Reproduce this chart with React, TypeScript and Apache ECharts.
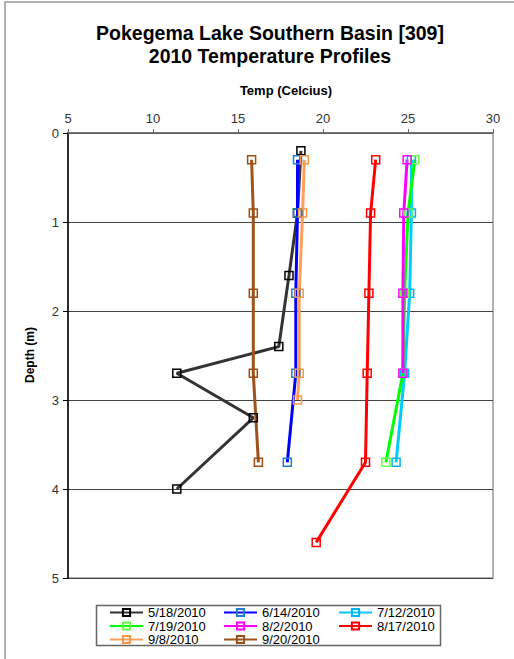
import React, { useEffect, useRef } from "react";
import * as echarts from "echarts";

const seriesNames = [
  "5/18/2010",
  "6/14/2010",
  "7/12/2010",
  "7/19/2010",
  "8/2/2010",
  "8/17/2010",
  "9/8/2010",
  "9/20/2010",
];

const depths0518 = [0.2, 0.9, 1.6, 2.4, 2.7, 3.2, 4.0];
const temps0518 = [18.7, 18.5, 18.0, 17.4, 11.4, 15.9, 11.4];

const depthsStd = [0.3, 0.9, 1.8, 2.7, 3.7, 4.6];
const temps0614 = [18.5, 18.5, 18.4, 18.4, 17.9];
const temps0712 = [25.2, 25.2, 25.1, 24.8, 24.3];
const temps0719 = [25.4, 25.0, 24.8, 24.7, 23.7];
const temps0802 = [24.95, 24.75, 24.7, 24.7];
const temps0817 = [23.1, 22.8, 22.7, 22.6, 22.5, 19.6];

const depths0908 = [0.3, 0.9, 1.8, 2.7, 3.0];
const temps0908 = [18.9, 18.8, 18.6, 18.6, 18.5];
const temps0920 = [15.8, 15.9, 15.9, 15.9, 16.2];

const xTicks = [5, 10, 15, 20, 25, 30];
const yTicks = [0, 1, 2, 3, 4, 5];

const lineColors = ["#333333", "#0000FF", "#00CCFF", "#00FF00", "#FF00FF", "#FF0000", "#FF9E5E", "#A0521A"];
const markerColors = ["#000000", "#1E7FD0", "#00B4F0", "#66FF44", "#FF00FF", "#FF0000", "#F79646", "#9C4F16"];

const pair = (temps: number[], depths: number[]) => temps.map((t, i) => [t, depths[i]]);

const FONT = "'Liberation Sans', Arial, sans-serif";

export default function App() {
  const ref = useRef<HTMLDivElement>(null);
  useEffect(() => {
    if (!ref.current) return;
    const chart = echarts.init(ref.current, undefined, { renderer: "svg" });
    const dataSets = [
      pair(temps0518, depths0518),
      pair(temps0614, depthsStd),
      pair(temps0712, depthsStd),
      pair(temps0719, depthsStd),
      pair(temps0802, depthsStd),
      pair(temps0817, depthsStd),
      pair(temps0908, depths0908),
      pair(temps0920, depthsStd),
    ];
    const legendBase = {
      orient: "vertical",
      top: 606,
      padding: 0,
      itemWidth: 33,
      itemHeight: 9,
      itemGap: 0.5,
      selectedMode: false,
      textStyle: { fontFamily: FONT, fontSize: 13, color: "#000", lineHeight: 13 },
    };
    chart.setOption({
      animation: false,
      backgroundColor: "#fff",
      grid: {
        left: 68,
        top: 133,
        right: 21,
        bottom: 81,
        show: true,
        borderColor: "#999",
        borderWidth: 1.5,
        backgroundColor: "transparent",
      },
      xAxis: {
        type: "value",
        position: "top",
        min: 5,
        max: 30,
        interval: 5,
        axisLine: { show: true, lineStyle: { color: "#666", width: 1.5 } },
        axisTick: { show: true, length: 4, lineStyle: { color: "#666" } },
        axisLabel: {
          fontFamily: FONT,
          fontSize: 13,
          color: "#333",
          margin: 8,
          formatter: (v: number) => (xTicks.includes(v) ? String(v) : ""),
        },
        splitLine: { show: false },
      },
      yAxis: {
        type: "value",
        inverse: true,
        min: 0,
        max: 5,
        interval: 1,
        axisLine: { show: true, lineStyle: { color: "#000", width: 1.5 } },
        axisTick: { show: true, length: 5, lineStyle: { color: "#000" } },
        axisLabel: {
          fontFamily: FONT,
          fontSize: 13,
          color: "#333",
          margin: 9,
          formatter: (v: number) => (yTicks.includes(v) ? String(v) : ""),
        },
        splitLine: { show: true, lineStyle: { color: "#444", width: 1 } },
      },
      legend: [
        { ...legendBase, left: 109, data: [seriesNames[0], seriesNames[3], seriesNames[6]] },
        { ...legendBase, left: 223, data: [seriesNames[1], seriesNames[4], seriesNames[7]] },
        { ...legendBase, left: 338, data: [seriesNames[2], seriesNames[5]] },
      ],
      graphic: [
        {
          type: "rect",
          shape: { x: 5, y: 2, width: 600, height: 700 },
          style: { fill: "none", stroke: "#999", lineWidth: 1.5 },
          silent: true,
        },
        {
          type: "rect",
          shape: { x: 96.5, y: 605.5, width: 344, height: 40 },
          style: { fill: "none", stroke: "#666", lineWidth: 1.5 },
          silent: true,
        },
        {
          type: "text",
          x: 270,
          y: 33,
          style: {
            text: "Pokegema Lake Southern Basin [309]",
            font: `bold 19.5px ${FONT}`,
            fill: "#000",
            align: "center",
            verticalAlign: "middle",
          },
        },
        {
          type: "text",
          x: 270,
          y: 56,
          style: {
            text: "2010 Temperature Profiles",
            font: `bold 19.5px ${FONT}`,
            fill: "#000",
            align: "center",
            verticalAlign: "middle",
          },
        },
        {
          type: "text",
          x: 286,
          y: 90,
          style: {
            text: "Temp (Celcius)",
            font: `bold 13px ${FONT}`,
            fill: "#000",
            align: "center",
            verticalAlign: "middle",
          },
        },
        {
          type: "text",
          x: 30,
          y: 355,
          rotation: Math.PI / 2,
          style: {
            text: "Depth (m)",
            font: `bold 12px ${FONT}`,
            fill: "#000",
            align: "center",
            verticalAlign: "middle",
          },
        },
      ],
      series: seriesNames.map((name, i) => ({
        name,
        type: "line",
        data: dataSets[i],
        symbol: "rect",
        symbolSize: 8,
        showSymbol: true,
        lineStyle: { color: lineColors[i], width: 3 },
        itemStyle: { color: "rgba(255,255,255,0)", borderColor: markerColors[i], borderWidth: 1.5 },
        emphasis: { disabled: true },
      })),
    });
    return () => chart.dispose();
  }, []);
  return <div ref={ref} style={{ position: "fixed", left: 0, top: 0, width: 514, height: 659 }} />;
}
